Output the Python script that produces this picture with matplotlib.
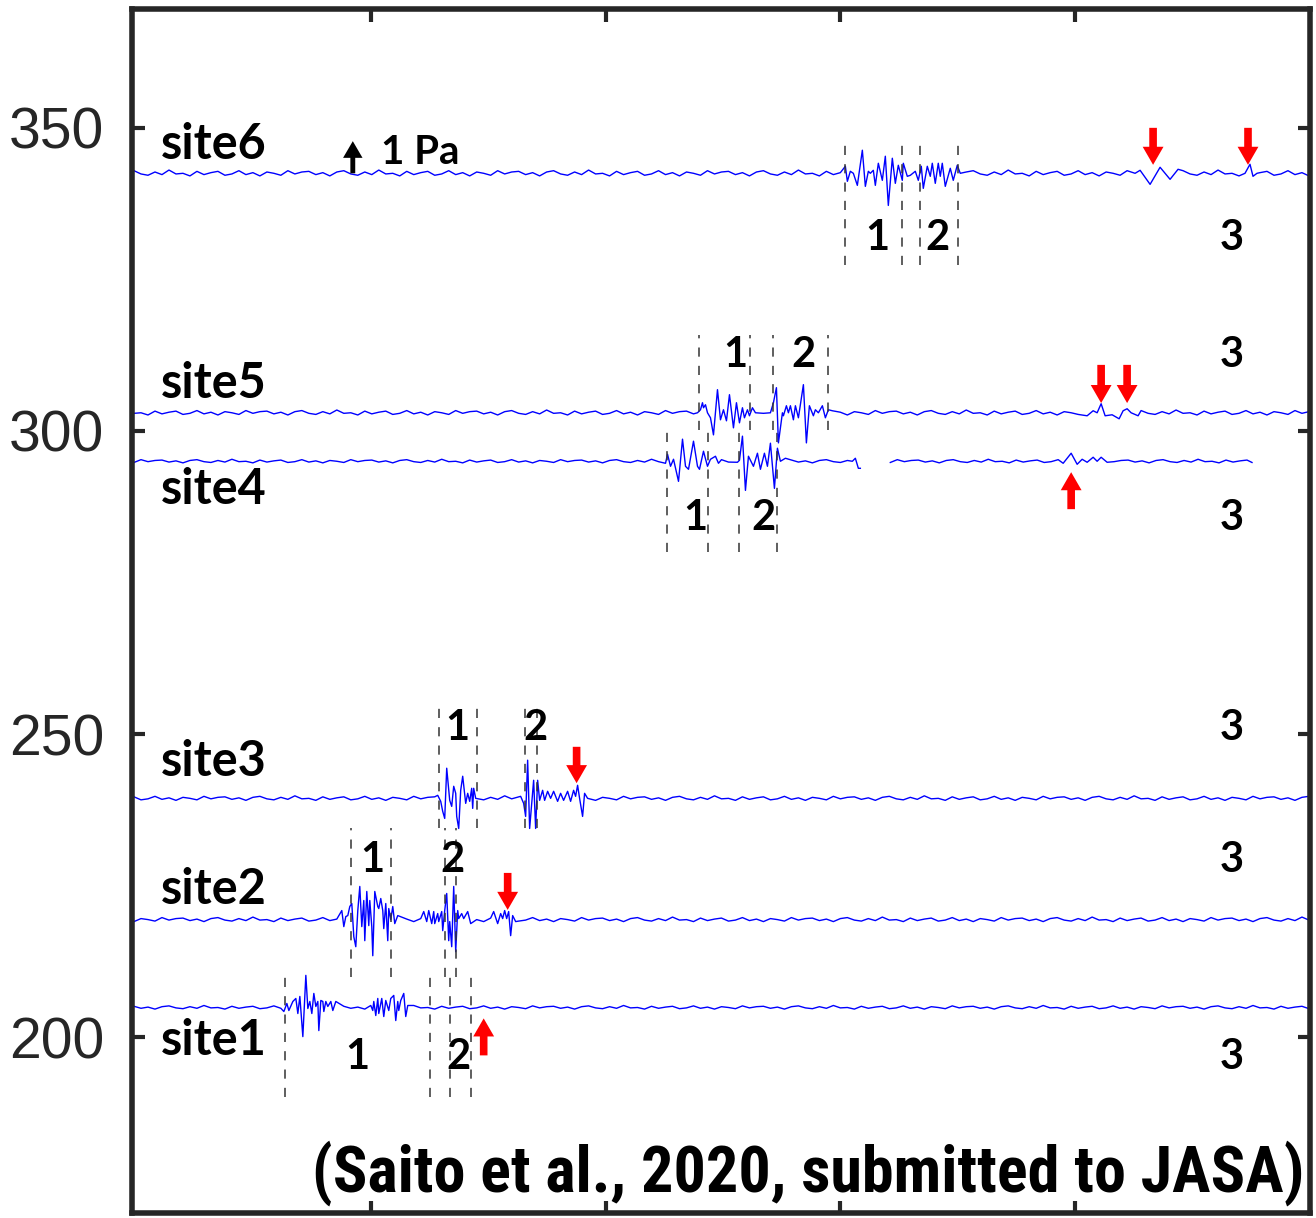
import numpy as np
import matplotlib
matplotlib.use('Agg')
import matplotlib.pyplot as plt
from matplotlib import font_manager as fm

# time axis: sample index -> seconds
fs = 23.5
s0 = 5
pa = 5.3        # y-axis units for 1 Pa (scale arrow)
unit = 32.0     # waveform values below are in 1/32 Pa

sites = ['site1', 'site2', 'site3', 'site4', 'site5', 'site6']
baselines = [204.9, 219.4, 239.4, 295.0, 303.0, 342.5]

# background wiggle (1/32 Pa)
noise = [1.5, -1, 0.5, -2, 1, 2, -0.5, -1.5, 1, -1, 2.5, -0.5, 0, -2, 1.5,
         -1, 0.5, 1.5, -1.5, -0.5, 2, -1, 0.5, -2, 1, 0, -1.5, 2, -0.5, 1]
noise_scale = [0.8, 1.0, 1.0, 0.8, 1.1, 1.3]
noise_shift = [0, 7, 13, 4, 19, 25]

# wave packets: sample index / value (1/32 Pa)
s1_x1 = [153, 156, 158, 162, 165, 167, 169, 172, 175, 177, 179, 181, 183, 185, 187, 188, 190, 192, 193, 195, 197, 200, 202, 205]
s1_v1 = [-4, 4, -3, 6, 9, -6, 11, -29, 32, -1, 6, -6, 14, 1, 6, -23, 7, 6, -4, 6, 1, 6, -3, 6]
s1_x2 = [240, 242, 243, 245, 247, 248, 251, 253, 255, 258, 260, 263, 265, 267, 268, 270, 273, 275, 277]
s1_v2 = [2, -3, 6, -8, 9, -6, 9, -9, 7, -3, 9, 12, -13, 6, -3, 7, 14, -9, 2]

s2_x1 = [211, 213, 215, 217, 219, 221, 223, 225, 227, 229, 231, 233, 234, 236, 238, 239, 241, 242, 244, 247, 248, 250, 252, 253, 255, 257, 258, 260, 262, 264, 267]
s2_v1 = [9, -7, 3, 4, 13, 16, -17, -27, 9, 33, -7, 19, -21, 28, -6, 19, -7, -36, 28, 13, 11, 21, 9, -9, 16, -21, 11, 0, 13, -4, 4]
s2_x2 = [290, 293, 296, 298, 301, 303, 304, 307, 308, 311, 312, 314, 316, 318, 319, 321, 323, 325, 327, 328, 331, 333, 337, 340]
s2_v2 = [1, 8, -2, 9, -4, 8, -4, 6, -2, 8, -11, 9, 26, -21, -2, -27, 33, -32, 9, 1, 6, 1, 8, -4]
s2_x3 = [363, 367, 370, 372, 374, 376, 378, 380, 382, 385]
s2_v3 = [8, -4, 6, 1, 9, 1, 8, -16, 4, -2]

s3_x1 = [307, 310, 312, 314, 316, 319, 321, 323, 325, 326, 328, 330, 332, 335, 337, 339, 341, 342, 343, 345]
s3_v1 = [3, -3, -13, -20, 30, -2, -8, 12, 5, -18, -30, 8, 22, -5, 5, -3, 10, -10, 10, 0]
s3_x2 = [390, 393, 395, 397, 399, 403, 405, 407, 409, 412, 414, 417, 420, 423, 427, 430, 433, 437, 440, 443, 445, 447, 449, 452, 454, 457]
s3_v2 = [2, -5, -18, 38, -30, 18, -30, 18, -2, 8, -2, 7, 0, 7, -3, 5, -2, 7, -3, 8, 2, 13, 0, -18, 5, 0]

s4_x1 = [535, 537, 540, 543, 548, 552, 555, 558, 563, 567, 569, 573, 577, 580, 585, 588]
s4_v1 = [-2, 7, -5, 2, -20, 22, -5, -8, 20, -5, -8, 10, -5, 2, 5, -2]
s4_x2 = [607, 609, 612, 615, 618, 623, 627, 630, 634, 637, 640, 644, 647, 650, 655]
s4_v2 = [-1, 1, 25, -29, 5, -5, 8, -8, 8, -5, 18, -27, 13, 0, 3]
s4_x3 = [722, 725, 728, 730]
s4_v3 = [0, 3, -7, -7]
s4_x4 = [933, 941, 947, 952, 957, 963, 967, 971, 977]
s4_v4 = [-2, 8, -3, 2, -1, 4, 0, 4, -1]

s5_x1 = [567, 570, 572, 573, 575, 577, 580, 583, 587, 590, 593, 596, 599, 603, 606, 609, 612, 614, 617, 619, 622, 625]
s5_v1 = [0, 3, 10, 5, 8, 0, -5, -22, 23, -7, 3, -8, 18, -15, 10, -10, 5, -5, 3, -3, 5, 0]
s5_x2 = [640, 643, 646, 648, 652, 653, 656, 658, 660, 663, 665, 668, 673, 676, 679, 683, 685, 688, 692, 695, 698, 702]
s5_v2 = [0, 10, 25, -30, 0, -3, 7, 0, 7, -7, 7, -5, 28, -30, 7, -3, 3, 0, 7, -5, 3, 2]
s5_x3 = [957, 963, 967, 971, 975, 982, 989, 993, 997, 1001, 1008]
s5_v3 = [-3, 2, 0, 9, -3, -2, -6, 2, 4, 0, -3]

s6_x1 = [715, 717, 720, 723, 727, 732, 735, 738, 740, 743, 745, 748, 752, 755, 758, 762, 765, 768, 772, 773, 777, 780, 785, 788, 791, 793, 797, 800, 802, 805, 808, 810, 812, 815, 820, 823, 827, 830]
s6_v1 = [7, -8, 2, 0, -12, 23, -13, 2, 0, 3, -12, 10, -7, 17, -32, 15, -10, 8, -7, 10, -3, -2, 2, -7, 7, -15, 7, -3, 10, -10, 10, -3, 10, -13, 5, -7, 8, 0]
s6_x2 = [1005, 1010, 1020, 1030, 1040, 1048]
s6_v2 = [0, 3, -11, 6, -6, 4]
s6_x3 = [1115, 1120, 1123, 1127]
s6_v3 = [0, 9, -3, 0]

spans = [[(3, 1180)], [(3, 1180)], [(3, 1180)], [(3, 730), (760, 1122)], [(3, 1180)], [(3, 1180)]]
events = [[(s1_x1, s1_v1), (s1_x2, s1_v2)],
          [(s2_x1, s2_v1), (s2_x2, s2_v2), (s2_x3, s2_v3)],
          [(s3_x1, s3_v1), (s3_x2, s3_v2)],
          [(s4_x1, s4_v1), (s4_x2, s4_v2), (s4_x3, s4_v3), (s4_x4, s4_v4)],
          [(s5_x1, s5_v1), (s5_x2, s5_v2), (s5_x3, s5_v3)],
          [(s6_x1, s6_v1), (s6_x2, s6_v2), (s6_x3, s6_v3)]]

# picking windows (dashed lines), sample index
windows = [[154, 299, 319, 340], [220, 260, 314, 325], [308, 346, 394, 406],
           [536, 578, 609, 647], [569, 620, 643, 698], [715, 772, 790, 828]]
win_y = [(190.1, 209.9), (209.9, 234.5), (234.5, 254.8),
         (280.0, 299.8), (300.2, 315.8), (327.4, 347.2)]

# phase numbers 1, 2, 3
num_x = [[227, 328, 1102], [242, 322, 1102], [327, 405, 1102],
         [565, 633, 1102], [605, 673, 1102], [747, 807, 1102]]
num_y = [196.7, 229.2, 251.0, 285.6, 312.5, 331.8]
name_y = [199.5, 224.3, 245.4, 290.3, 307.9, 347.2]

# red arrows: sample, tail y, tip y
red_x = [353, 377, 446, 941, 971, 997, 1023, 1118]
red_tail = [197.0, 227.1, 247.9, 287.1, 310.9, 310.9, 350.0, 350.0]
red_tip = [203.1, 221.0, 241.9, 293.2, 304.6, 304.6, 343.9, 343.9]


def sec(s):
    return (np.asarray(s, float) - s0) / fs


def build(k):
    xs, vs = [], []
    for a, b in spans[k]:
        bx = np.append(np.arange(a, b, 7.0), b)
        bv = np.resize(np.roll(noise, noise_shift[k]), len(bx)) * noise_scale[k]
        keep = np.ones(len(bx), bool)
        px, pv = [], []
        for ex, ev in events[k]:
            if ex[0] >= a and ex[-1] <= b:
                keep &= (bx < ex[0] - 2) | (bx > ex[-1] + 2)
                px += ex
                pv += ev
        x = np.concatenate([bx[keep], px])
        v = np.concatenate([bv[keep], pv])
        o = np.argsort(x, kind='stable')
        xs += list(x[o]) + [np.nan]
        vs += list(v[o]) + [np.nan]
    return np.array(xs), np.array(vs)


names = {f.name for f in fm.fontManager.ttflist}
narrow = 'Lato'
for cand in ['Liberation Sans Narrow', 'Roboto Condensed', 'Open Sans Condensed',
             'Noto Sans Condensed', 'DejaVu Sans Condensed']:
    if cand in names:
        narrow = cand
        break
bold_font = ['Lato', 'DejaVu Sans']

fig = plt.figure(figsize=(13.16, 12.18), dpi=100)
ax = fig.add_axes([0.1003, 0.0041, 0.8951, 0.9885])

for k in range(6):
    x, v = build(k)
    ax.plot(sec(x), baselines[k] + v / unit * pa, color='#0000ff', lw=1.0)
    ax.vlines(sec(windows[k]), win_y[k][0], win_y[k][1], colors='#333333',
              linestyles=(0, (6, 6)), linewidth=1.1)
    for j, lab in enumerate(['1', '2', '3']):
        ax.text(sec(num_x[k][j]), num_y[k], lab, ha='center', va='center',
                fontsize=30, fontweight='bold', family=bold_font)
    ax.text(sec(30), name_y[k], sites[k], ha='left', va='center',
            fontsize=35, fontweight='bold', family=bold_font)

for x, y0, y1 in zip(red_x, red_tail, red_tip):
    ax.annotate('', xy=(sec(x), y1), xytext=(sec(x), y0),
                arrowprops=dict(facecolor='#ff0000', edgecolor='none', width=5.5,
                                headwidth=15, headlength=13, shrink=0))

# 1 Pa scale arrow
ax.annotate('', xy=(sec(222), baselines[5] + pa), xytext=(sec(222), baselines[5]),
            arrowprops=dict(facecolor='black', edgecolor='none', width=3.5,
                            headwidth=14, headlength=12, shrink=0))
ax.text(sec(250), 345.9, '1 Pa', ha='left', va='center', fontsize=29,
        fontweight='bold', family=bold_font)

cite = ax.text(sec(1175), 177.6, '(Saito et al., 2020, submitted to JASA)', ha='right',
               va='center', fontsize=48, fontweight='bold', family=[narrow, 'DejaVu Sans'])

ax.set_xlim(sec(1), sec(1180))
ax.set_ylim(171.0, 369.6)
ax.set_xticks([10, 20, 30, 40])
ax.set_yticks([200, 250, 300, 350])
ax.tick_params(direction='in', top=True, right=True, labelbottom=False,
               length=9, width=3, color='#262626', labelsize=41,
               labelcolor='#262626', pad=20)
for lab in ax.get_yticklabels():
    lab.set_family(['Liberation Sans', 'DejaVu Sans'])
for sp in ax.spines.values():
    sp.set_linewidth(4)
    sp.set_color('#262626')

# fit the citation to the width it has in the original (about 990 px)
fig.canvas.draw()
w = cite.get_window_extent().width
cite.set_fontsize(48 * 990 / w)

fig.savefig('out.png', dpi=100)
